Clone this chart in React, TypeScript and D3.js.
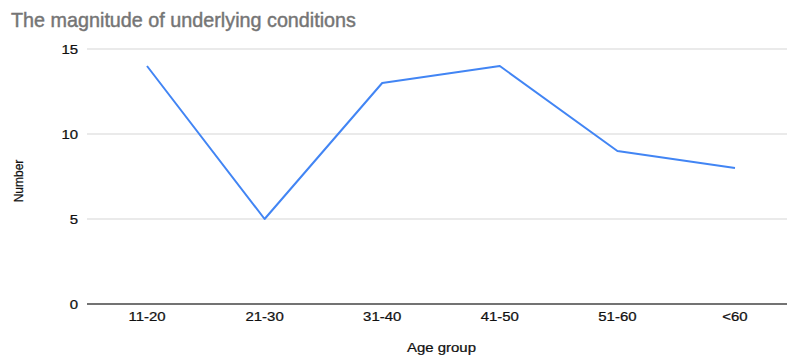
import React from "react";
import * as d3 from "d3";

const ageGroups = ["11-20", "21-30", "31-40", "41-50", "51-60", "<60"];
const counts = [14, 5, 13, 14, 9, 8];
const yTicks = [0, 5, 10, 15];

const W = 787;
const H = 356;
const FONT = "'Liberation Sans', Arial, sans-serif";
const SX = 1.15; // horizontal stretch applied to axis text

export default function App() {
  const x = d3.scalePoint<string>().domain(ageGroups).range([147, 735]);
  const y = d3.scaleLinear().domain([0, 15]).range([304, 49]);
  const line = d3
    .line<number>()
    .x((_, i) => x(ageGroups[i]) as number)
    .y((d) => y(d));

  const axisText = { fontSize: 13, fill: "#111", stroke: "#111", strokeWidth: 0.25 };

  return (
    <svg
      width={W}
      height={H}
      style={{ position: "absolute", left: 0, top: 0, background: "#fff" }}
      fontFamily={FONT}
    >
      <text
        x={11}
        y={27}
        fontSize={21}
        fill="#757575"
        stroke="#757575"
        strokeWidth={0.45}
        textLength={345}
        lengthAdjust="spacingAndGlyphs"
      >
        The magnitude of underlying conditions
      </text>

      {yTicks.map((t) => (
        <g key={t}>
          <line
            x1={87}
            x2={W}
            y1={y(t)}
            y2={y(t)}
            stroke={t === 0 ? "#444" : "#d6d6d6"}
            strokeWidth={t === 0 ? 1.3 : 1.2}
          />
          <text
            transform={`translate(78,${y(t) + 4.6}) scale(${SX},1)`}
            textAnchor="end"
            {...axisText}
          >
            {t}
          </text>
        </g>
      ))}

      <text
        transform={`translate(23,181) rotate(-90)`}
        textAnchor="middle"
        {...axisText}
        fontSize={12}
      >
        Number
      </text>

      <path
        d={line(counts) || ""}
        fill="none"
        stroke="#4285F4"
        strokeWidth={2}
        strokeLinejoin="round"
      />

      {ageGroups.map((g) => (
        <text
          key={g}
          transform={`translate(${x(g)},321) scale(${SX},1)`}
          textAnchor="middle"
          {...axisText}
        >
          {g}
        </text>
      ))}

      <text
        transform={`translate(441.5,352) scale(${SX},1)`}
        textAnchor="middle"
        {...axisText}
      >
        Age group
      </text>
    </svg>
  );
}
